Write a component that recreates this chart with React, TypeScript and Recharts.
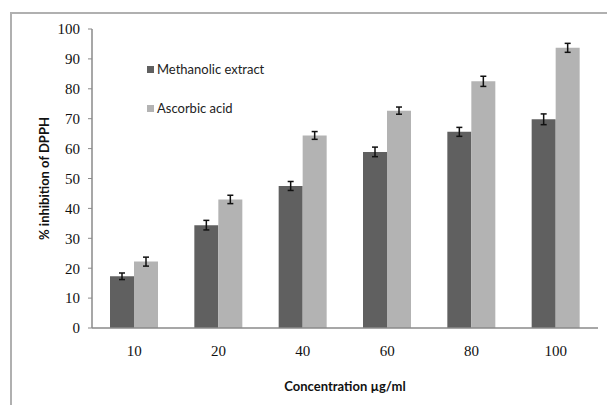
import React from "react";
import { BarChart, Bar, XAxis, YAxis, ErrorBar } from "recharts";

const categories = ["10", "20", "40", "60", "80", "100"];
const methanolic = [17.3, 34.4, 47.5, 58.9, 65.6, 69.8];
const methanolicErr = [1.1, 1.6, 1.5, 1.6, 1.5, 1.8];
const ascorbic = [22.2, 43.0, 64.4, 72.7, 82.5, 93.7];
const ascorbicErr = [1.5, 1.4, 1.3, 1.2, 1.7, 1.5];
const yTicks = [0, 10, 20, 30, 40, 50, 60, 70, 80, 90, 100];

const series = [
  { key: "methanolic", err: "methanolicErr", name: "Methanolic extract", color: "#606060" },
  { key: "ascorbic", err: "ascorbicErr", name: "Ascorbic acid", color: "#b3b3b3" },
];

const data = categories.map((c, i) => ({
  conc: c,
  methanolic: methanolic[i],
  methanolicErr: methanolicErr[i],
  ascorbic: ascorbic[i],
  ascorbicErr: ascorbicErr[i],
}));

const labelFont = "Lato, 'Open Sans', sans-serif";
const tickFont = "'Liberation Serif', serif";

const LegendBox = () => (
  <div
    style={{
      position: "absolute",
      left: 139,
      top: 51,
      fontFamily: labelFont,
      fontSize: 13,
      color: "#222",
      pointerEvents: "none",
    }}
  >
    {series.map((s, i) => (
      <div
        key={s.key}
        style={{ display: "flex", alignItems: "center", height: 20, marginBottom: i === 0 ? 19 : 0 }}
      >
        <span style={{ display: "inline-block", width: 7, height: 7, background: s.color, marginRight: 3 }} />
        <span>{s.name}</span>
      </div>
    ))}
  </div>
);

export default function App() {
  return (
    <div style={{ position: "relative", width: 607, height: 397 }}>
      <div
        style={{
          position: "absolute",
          left: 2,
          top: 4,
          width: 620,
          height: 400,
          borderLeft: "2px solid #b0b0b0",
          borderTop: "2px solid #b0b0b0",
          boxSizing: "border-box",
          pointerEvents: "none",
        }}
      />
      <div style={{ position: "absolute", left: 0, top: 0, width: 607, height: 397, overflow: "hidden" }}>
        <BarChart
          width={607}
          height={397}
          data={data}
          margin={{ top: 21, right: 17, left: 0, bottom: 0 }}
          barGap={0}
          barSize={24}
        >
          <XAxis
            dataKey="conc"
            axisLine={{ stroke: "#8a8a8a", strokeWidth: 1.5 }}
            tickLine={false}
            tickSize={0}
            tickMargin={17}
            height={77}
            tick={{ fontFamily: tickFont, fontSize: 15, fill: "#111" }}
            label={{
              value: "Concentration  µg/ml",
              position: "insideBottom",
              offset: 14,
              style: { fontFamily: labelFont, fontSize: 13, fontWeight: 700, fill: "#111", whiteSpace: "pre" },
            }}
          />
          <YAxis
            domain={[0, 100]}
            ticks={yTicks}
            interval={0}
            width={84}
            axisLine={{ stroke: "#8a8a8a", strokeWidth: 1.5 }}
            tickLine={{ stroke: "#8a8a8a" }}
            tickSize={4}
            tickMargin={8}
            tick={{ fontFamily: tickFont, fontSize: 15, fill: "#111" }}
            label={{
              value: "% inhibition of DPPH",
              angle: -90,
              position: "insideLeft",
              offset: 36,
              style: { fontFamily: labelFont, fontSize: 13, fontWeight: 700, fill: "#111", textAnchor: "middle" },
            }}
          />
          {series.map((s) => (
            <Bar key={s.key} dataKey={s.key} name={s.name} fill={s.color} isAnimationActive={false}>
              <ErrorBar dataKey={s.err} width={3} stroke="#111" strokeWidth={1.5} direction="y" />
            </Bar>
          ))}
        </BarChart>
      </div>
      <LegendBox />
    </div>
  );
}
